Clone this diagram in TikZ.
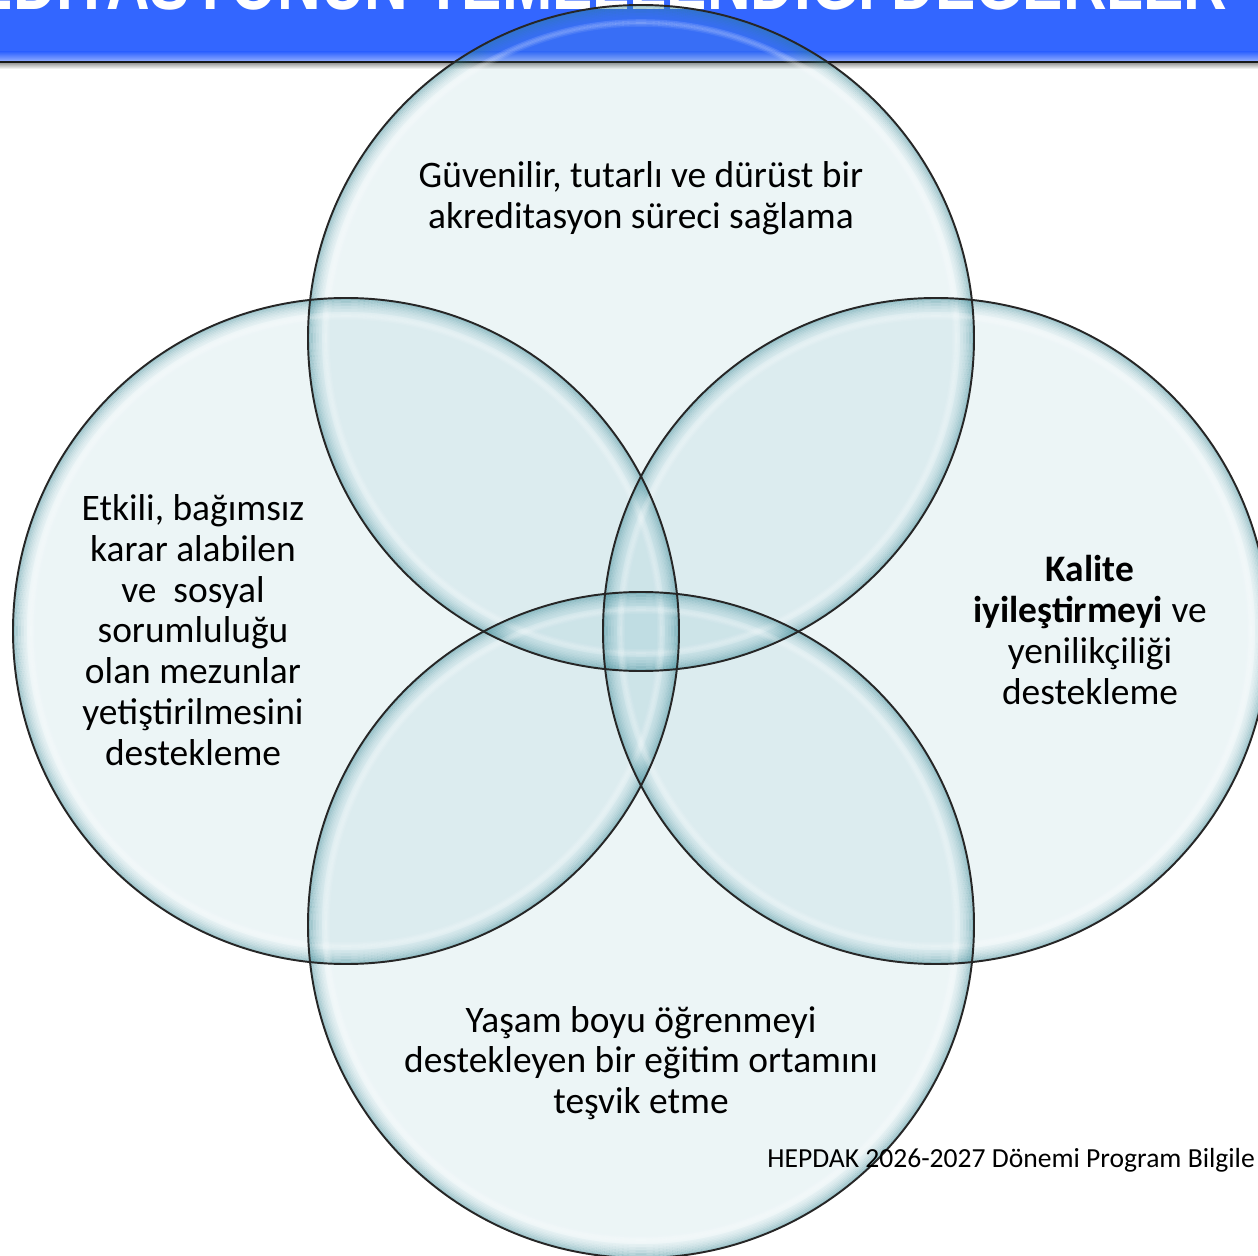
\documentclass[tikz,border=0pt]{standalone}
\usepackage{fontspec}
\setmainfont{Carlito}
\newfontfamily\bannerfont[FakeStretch=0.80]{Liberation Sans}
\usetikzlibrary{calc}
\definecolor{bannerblue}{RGB}{51,102,255}
\definecolor{bubcore}{RGB}{100,170,185}
\definecolor{bubrim}{RGB}{40,124,138}
\tikzset{
  bubblefill/.style={fill=bubcore, fill opacity=0.12},
  glow/.style={draw=bubrim, line width=0.9pt},
  glint/.style={draw=white, line width=0.9pt},
  rim/.style={draw=black!85, line width=1.1pt},
  valuetext/.style={align=center, text=black, font=\fontsize{21.3}{23.2}\selectfont},
}
\begin{document}
\begin{tikzpicture}[line cap=round,line join=round,x=0.02cm,y=-0.02cm]
\useasboundingbox (0,0) rectangle (1258,1256);
\clip (0,0) rectangle (1258,1256);
% banner
\fill [color=bannerblue] (0,0) rectangle (1258,52);
\shade [top color=bannerblue, bottom color=bannerblue!55] (0,52) rectangle (1258,61);
\shade [top color=black!45, bottom color=white] (0,62) rectangle (1258,69);
\draw [line width=1.2pt, color=black!90] (0,62) -- (1258,62);
\node[anchor=base east, inner sep=0pt, text=white, font=\bannerfont\bfseries\fontsize{43}{50}\selectfont] (title) at (1228,10) {EDİTASYONUN TEMELLENDİĞİ DEĞERLER};
% circles
\coordinate (ctop) at (641,338);
\coordinate (cleft) at (346,631);
\coordinate (cright) at (936,631);
\coordinate (cbottom) at (641,925);
\foreach \c in {ctop,cleft,cright,cbottom}
  \fill [bubblefill] (\c) circle [radius=333];
% inner glow and glint along the edge
\foreach \c in {ctop,cleft,cright,cbottom} {
  \foreach \k/\op in {1/0.36,2.5/0.3,4/0.25,5.5/0.2,7/0.16,8.5/0.12,10/0.09,11.5/0.06,13/0.04}
    \draw [glow, draw opacity=\op] (\c) circle [radius=333-\k];
  \foreach \k/\op in {15/0.12,16.5/0.22,18/0.26,19.5/0.18,21/0.08}
    \draw [glint, draw opacity=\op] (\c) circle [radius=333-\k];
}
\foreach \c in {ctop,cleft,cright,cbottom}
  \draw [rim] (\c) circle [radius=333];
% texts
\node[valuetext] (trust) at (641,198) {Güvenilir, tutarlı ve dürüst bir\\akreditasyon süreci sağlama};
\node[valuetext] (grads) at (193,630) {Etkili, bağımsız\\karar alabilen\\ve\ \ sosyal\\sorumluluğu\\olan mezunlar\\yetiştirilmesini\\destekleme};
\node[valuetext] (quality) at (1090,630) {\textbf{Kalite}\\\textbf{iyileştirmeyi} ve\\yenilikçiliği\\destekleme};
\node[valuetext] (lifelong) at (641,1063) {Yaşam boyu öğrenmeyi\\destekleyen bir eğitim ortamını\\teşvik etme};
\node[anchor=west, inner sep=0pt, font=\fontsize{15.7}{18}\selectfont] (footer) at (767,1160) {HEPDAK 2026-2027 Dönemi Program Bilgile};
\end{tikzpicture}
\end{document}
